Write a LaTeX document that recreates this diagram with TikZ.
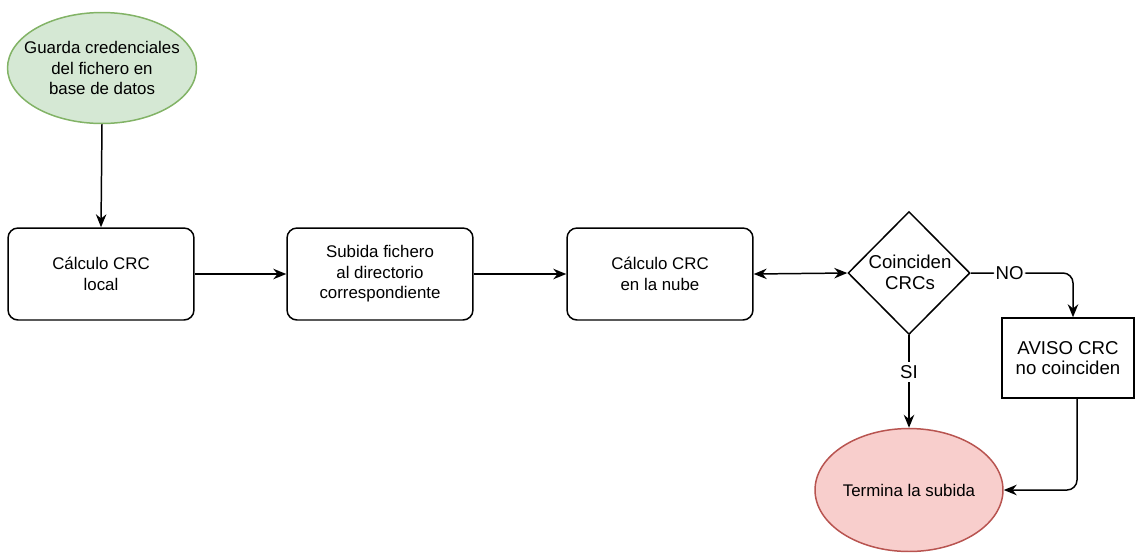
\documentclass[tikz,border=0pt]{standalone}
\usepackage{fontspec}
\setmainfont{Liberation Sans}
\usetikzlibrary{arrows.meta,shapes.geometric}
\definecolor{verdeFondo}{HTML}{D5E8D4}
\definecolor{verdeBorde}{HTML}{82B366}
\definecolor{rojoFondo}{HTML}{F8CECC}
\definecolor{rojoBorde}{HTML}{B85450}
\tikzset{
	texto/.style={align=center, inner sep=0pt, font=\fontsize{9.6}{11.6}\selectfont},
	textoGrande/.style={texto, font=\fontsize{10.6}{11.8}\selectfont},
	caja/.style={texto, draw, rounded corners=0.2cm, minimum width=3.72cm, minimum height=1.84cm},
	aviso/.style={textoGrande, draw, minimum width=2.64cm, minimum height=1.6cm},
	inicio/.style={ellipse, draw=verdeBorde, fill=verdeFondo, minimum width=3.78cm, minimum height=2.22cm},
	final/.style={ellipse, draw=rojoBorde, fill=rojoFondo, minimum width=3.76cm, minimum height=2.46cm},
	decision/.style={diamond, draw, inner sep=0pt, minimum width=2.44cm, minimum height=2.46cm, aspect=1}
}

\begin{document}
\begin{tikzpicture}[x=0.02cm, y=-0.02cm, line width=0.85pt, >={Stealth[length=2.6mm, width=2.1mm]}]
		%%%%% START %%%%%
		\useasboundingbox (0,0) rectangle (1135,552);
		
		\node[inicio] (guarda) at (102,68) {};
		\node[texto] (guardaT) at (guarda) {Guarda credenciales\\del fichero en\\base de datos};
		
		\node[caja] (local) at (101,274) {Cálculo CRC\\local};
		\node[caja] (subida) at (380,274) {Subida fichero\\al directorio\\correspondiente};
		\node[caja] (nube) at (660,274) {Cálculo CRC\\en la nube};
		
		\node[decision] (coinciden) at (909,273) {};
		\node[textoGrande] (coincidenT) at (910,272) {Coinciden\\CRCs};
		
		\node[aviso] (noCoinciden) at (1068,358) {AVISO CRC\\no coinciden};
		
		\node[final] (termina) at (909,490) {};
		\node[texto] (terminaT) at (termina) {Termina la subida};
		
		\draw[->] (guarda.south) -- (local.north);
		\draw[->] (local.east) -- (subida.west);
		\draw[->] (subida.east) -- (nube.west);
		\draw[<->] (nube.east) -- (coinciden.west);
		\draw[->, rounded corners=0.2cm] (coinciden.east) -| node[pos=0.19, fill=white, textoGrande, inner xsep=1pt] {NO} ([xshift=0.1cm]noCoinciden.north);
		\draw[->] (coinciden.south) -- node[pos=0.4, fill=white, textoGrande, inner ysep=2pt] {SI} (termina.north);
		\draw[->, rounded corners=0.2cm] ([xshift=0.18cm]noCoinciden.south) |- (termina.east);
		%%%%% END %%%%%
	\end{tikzpicture}
\end{document}
